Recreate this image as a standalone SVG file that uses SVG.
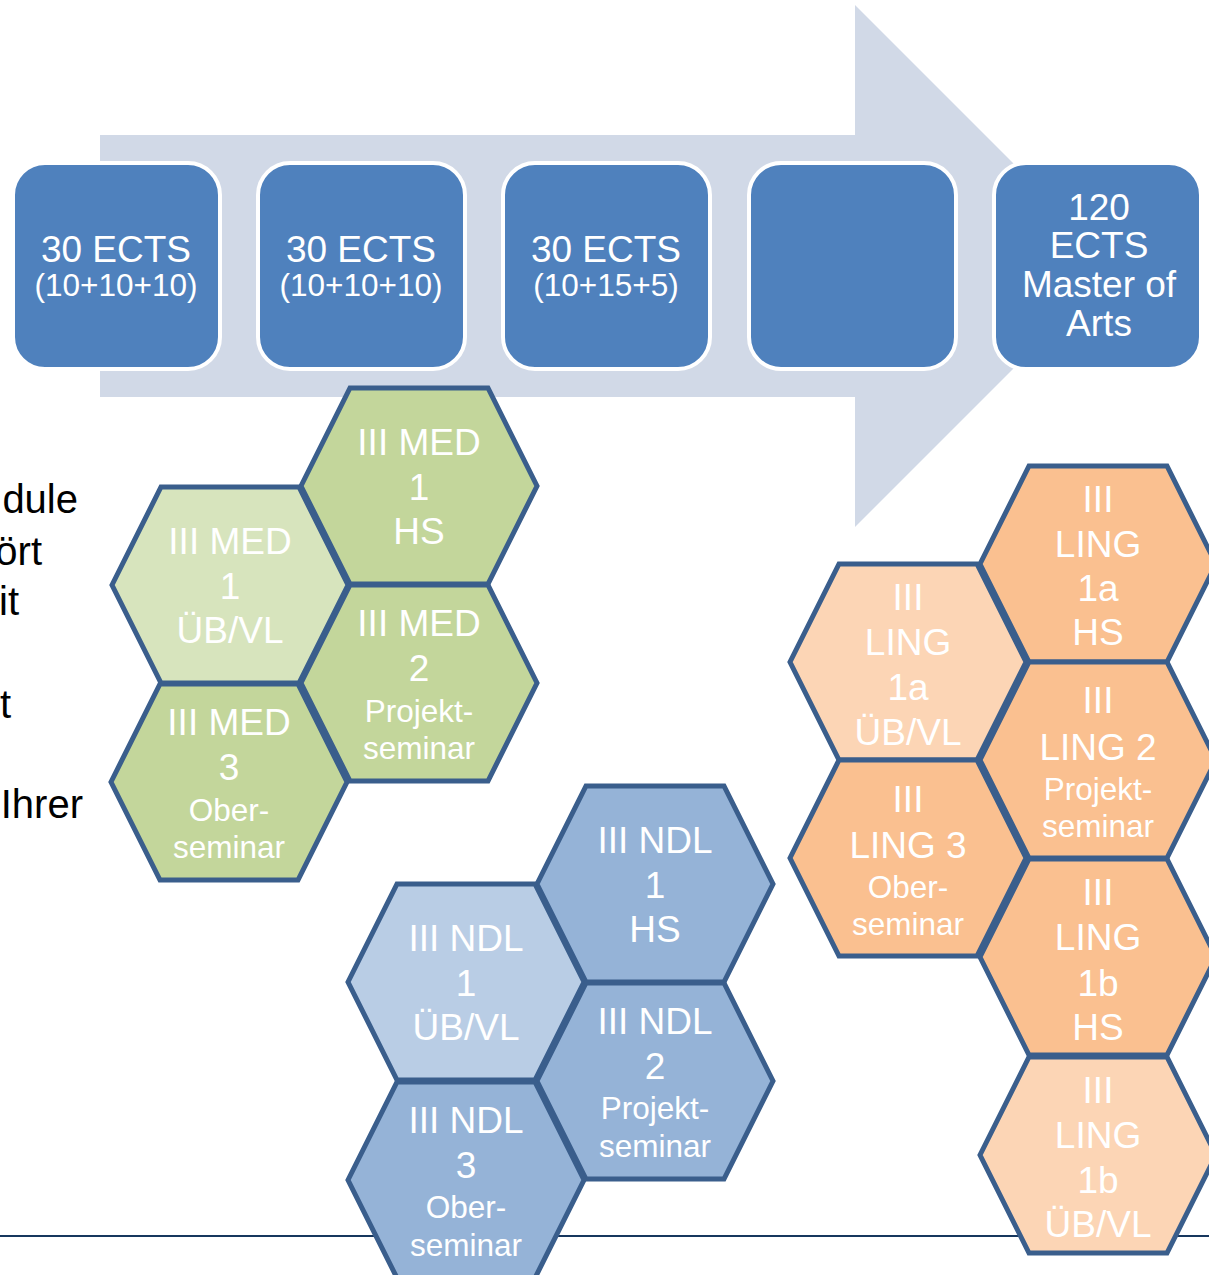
<svg xmlns="http://www.w3.org/2000/svg" xmlns:xlink="http://www.w3.org/1999/xlink" width="1209" height="1275" viewBox="0 0 1209 1275">
<style>
  text { font-family: "Liberation Sans", Arial, sans-serif; }
  .box { fill: #4F81BD; stroke: #FFFFFF; stroke-width: 4; }
  .bt { fill: #FFFFFF; font-size: 37px; text-anchor: middle; }
  .bs { font-size: 31.5px; }
  .hx { stroke: #3A5E8C; stroke-width: 5; stroke-linejoin: miter; }
  .g1 { fill: #C3D69B; } .g2 { fill: #D7E4BD; }
  .b1 { fill: #95B3D7; } .b2 { fill: #B9CDE5; }
  .o1 { fill: #FAC090; } .o2 { fill: #FCD5B5; }
  .ht { fill: #FFFFFF; font-size: 37px; text-anchor: middle; }
  .hs { font-size: 31.5px; }
  .side { fill: #000000; font-size: 40px; text-anchor: end; }
</style>
<defs>
  <polygon id="hex" points="-118,0 -69,-98 69,-98 118,0 69,98 -69,98"/>
</defs>
<rect width="1209" height="1275" fill="#FFFFFF"/>
<g id="arrow">
  <polygon points="100,135 855,135 855,5 1116,266 855,527 855,397 100,397" fill="#D1D9E7"/>
</g>
<g id="side-text">
  <text class="side" x="78" y="513">dule</text>
  <text class="side" x="42" y="565">ört</text>
  <text class="side" x="19" y="615">it</text>
  <text class="side" x="11" y="718">t</text>
  <text class="side" x="83" y="818">Ihrer</text>
</g>
<g id="box1"><rect class="box" x="13" y="163" width="207" height="206" rx="32"/>
  <text class="bt"><tspan x="116" y="262">30 ECTS</tspan><tspan class="bs" x="116" y="296">(10+10+10)</tspan></text></g>
<g id="box2"><rect class="box" x="258" y="163" width="207" height="206" rx="32"/>
  <text class="bt"><tspan x="361" y="262">30 ECTS</tspan><tspan class="bs" x="361" y="296">(10+10+10)</tspan></text></g>
<g id="box3"><rect class="box" x="503" y="163" width="207" height="206" rx="32"/>
  <text class="bt"><tspan x="606" y="262">30 ECTS</tspan><tspan class="bs" x="606" y="296">(10+15+5)</tspan></text></g>
<g id="box4"><rect class="box" x="749" y="163" width="207" height="206" rx="32"/></g>
<g id="box5"><rect class="box" x="994" y="163" width="207" height="206" rx="32"/>
  <text class="bt"><tspan x="1099" y="220">120</tspan><tspan x="1099" y="258">ECTS</tspan><tspan x="1099" y="297">Master of</tspan><tspan x="1099" y="336">Arts</tspan></text></g>
<g id="baseline">
  <line x1="0" y1="1236" x2="1209" y2="1236" stroke="#17375E" stroke-width="2"/>
</g>
<g id="med1hs"><use xlink:href="#hex" href="#hex" class="hx g1" x="419" y="486"/>
  <text class="ht"><tspan x="419" y="455">III MED</tspan><tspan x="419" y="500">1</tspan><tspan x="419" y="544">HS</tspan></text></g>
<g id="med1ub"><use xlink:href="#hex" href="#hex" class="hx g2" x="230" y="585"/>
  <text class="ht"><tspan x="230" y="554">III MED</tspan><tspan x="230" y="599">1</tspan><tspan x="230" y="643">ÜB/VL</tspan></text></g>
<g id="med2"><use xlink:href="#hex" href="#hex" class="hx g1" x="419" y="683"/>
  <text class="ht"><tspan x="419" y="636">III MED</tspan><tspan x="419" y="681">2</tspan><tspan class="hs" x="419" y="722">Projekt-</tspan><tspan class="hs" x="419" y="759">seminar</tspan></text></g>
<g id="med3"><use xlink:href="#hex" href="#hex" class="hx g1" x="229" y="782"/>
  <text class="ht"><tspan x="229" y="735">III MED</tspan><tspan x="229" y="780">3</tspan><tspan class="hs" x="229" y="821">Ober-</tspan><tspan class="hs" x="229" y="858">seminar</tspan></text></g>
<g id="ndl1hs"><use xlink:href="#hex" href="#hex" class="hx b1" x="655" y="884"/>
  <text class="ht"><tspan x="655" y="853">III NDL</tspan><tspan x="655" y="898">1</tspan><tspan x="655" y="942">HS</tspan></text></g>
<g id="ndl1ub"><use xlink:href="#hex" href="#hex" class="hx b2" x="466" y="982"/>
  <text class="ht"><tspan x="466" y="951">III NDL</tspan><tspan x="466" y="996">1</tspan><tspan x="466" y="1040">ÜB/VL</tspan></text></g>
<g id="ndl2"><use xlink:href="#hex" href="#hex" class="hx b1" x="655" y="1081"/>
  <text class="ht"><tspan x="655" y="1034">III NDL</tspan><tspan x="655" y="1079">2</tspan><tspan class="hs" x="655" y="1119">Projekt-</tspan><tspan class="hs" x="655" y="1157">seminar</tspan></text></g>
<g id="ndl3"><use xlink:href="#hex" href="#hex" class="hx b1" x="466" y="1180"/>
  <text class="ht"><tspan x="466" y="1133">III NDL</tspan><tspan x="466" y="1178">3</tspan><tspan class="hs" x="466" y="1218">Ober-</tspan><tspan class="hs" x="466" y="1256">seminar</tspan></text></g>
<g id="ling1ahs"><use xlink:href="#hex" href="#hex" class="hx o1" x="1098" y="564"/>
  <text class="ht"><tspan x="1098" y="512">III</tspan><tspan x="1098" y="557">LING</tspan><tspan x="1098" y="601">1a</tspan><tspan x="1098" y="645">HS</tspan></text></g>
<g id="ling1aub"><use xlink:href="#hex" href="#hex" class="hx o2" x="908" y="662"/>
  <text class="ht"><tspan x="908" y="610">III</tspan><tspan x="908" y="655">LING</tspan><tspan x="908" y="700">1a</tspan><tspan x="908" y="745">ÜB/VL</tspan></text></g>
<g id="ling2"><use xlink:href="#hex" href="#hex" class="hx o1" x="1098" y="760"/>
  <text class="ht"><tspan x="1098" y="713">III</tspan><tspan x="1098" y="760">LING 2</tspan><tspan class="hs" x="1098" y="800">Projekt-</tspan><tspan class="hs" x="1098" y="837">seminar</tspan></text></g>
<g id="ling3"><use xlink:href="#hex" href="#hex" class="hx o1" x="908" y="858"/>
  <text class="ht"><tspan x="908" y="812">III</tspan><tspan x="908" y="858">LING 3</tspan><tspan class="hs" x="908" y="898">Ober-</tspan><tspan class="hs" x="908" y="935">seminar</tspan></text></g>
<g id="ling1bhs"><use xlink:href="#hex" href="#hex" class="hx o1" x="1098" y="957"/>
  <text class="ht"><tspan x="1098" y="905">III</tspan><tspan x="1098" y="950">LING</tspan><tspan x="1098" y="996">1b</tspan><tspan x="1098" y="1040">HS</tspan></text></g>
<g id="ling1bub"><use xlink:href="#hex" href="#hex" class="hx o2" x="1098" y="1155"/>
  <text class="ht"><tspan x="1098" y="1103">III</tspan><tspan x="1098" y="1148">LING</tspan><tspan x="1098" y="1193">1b</tspan><tspan x="1098" y="1237">ÜB/VL</tspan></text></g>
</svg>
